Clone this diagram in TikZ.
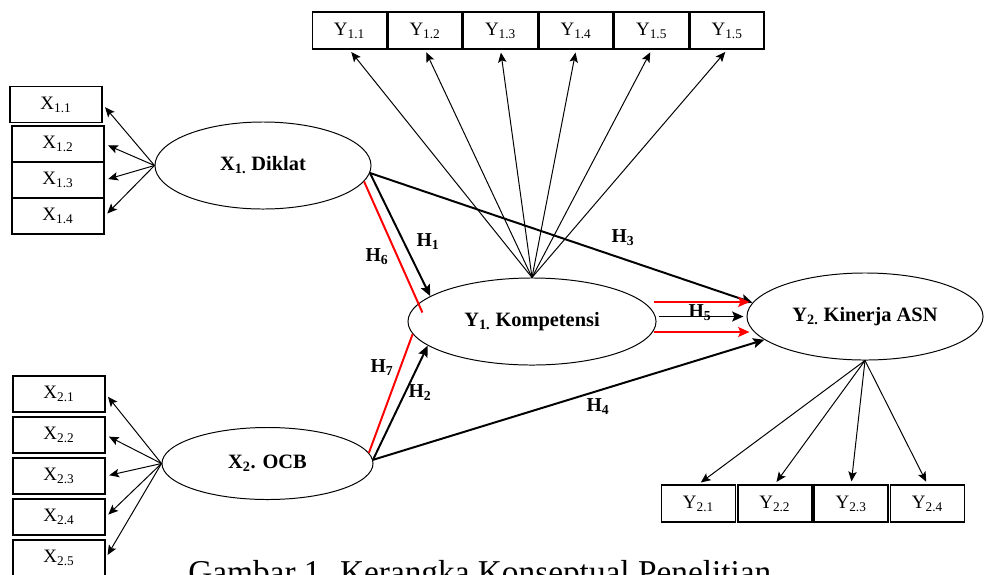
\documentclass[tikz,border=0pt]{standalone}
\usepackage{fontspec}
\setmainfont{Liberation Serif}
\usetikzlibrary{shapes.geometric, arrows.meta, calc}

\begin{document}
\begin{tikzpicture}[x=0.025cm, y=-0.025cm, node distance=1.8875cm]
%
% Skiss:
% X1 Diklat --H1--> Y1 Kompetensi --H5--> Y2 Kinerja ASN
% X2 OCB    --H2--> Y1 Kompetensi
% X1 --H3--> Y2, X2 --H4--> Y2, H6/H7 via Y1 (red)
%
% Styles
\tikzstyle{indicator} = [rectangle, draw=black, line width=1.1pt, minimum width=1.85cm, minimum height=0.925cm, inner sep=0pt, font=\fontsize{13.5}{15}\selectfont]
\tikzstyle{xindicator} = [indicator, minimum width=2.3cm, minimum height=0.9cm]
\tikzstyle{latent} = [ellipse, draw=black, line width=0.7pt, minimum height=2.175cm, inner sep=0pt, font=\bfseries\fontsize{14.5}{16}\selectfont]
\tikzstyle{hlabel} = [inner sep=0pt, font=\bfseries\fontsize{14}{16}\selectfont]
\tikzstyle{arrow} = [line width=0.7pt,->,>={Stealth[length=7pt, width=6pt, inset=1.5pt]}]
\tikzstyle{hyp} = [line width=1.4pt,->,>={Stealth[length=8pt, width=7pt, inset=1.5pt]}]
\tikzstyle{redline} = [red, line width=1.4pt]
\tikzstyle{redarrow} = [red, line width=1.4pt,->,>={Stealth[length=8pt, width=7pt, inset=1.5pt]}]
\clip (0,0) rectangle (985,574);
% Latent variables
\node (diklat) [latent, minimum width=5.4cm] at (263,165.5) {X\textsubscript{1.} Diklat};
\node (kompetensi) [latent, minimum width=6.2cm] at (532,321.5) {Y\textsubscript{1.} Kompetensi};
\node (kinerja) [latent, minimum width=5.9cm] at (865,316.5) {Y\textsubscript{2.} Kinerja ASN};
\node (ocb) [latent, minimum width=5.275cm, minimum height=1.8cm] at (267.5,463.5) {X\textsubscript{2}. OCB};
% Indicators Y1
\node (y11) [indicator] at (349.5,30.5) {Y\textsubscript{1.1}};
\node (y12) [indicator, right of=y11] {Y\textsubscript{1.2}};
\node (y13) [indicator, right of=y12] {Y\textsubscript{1.3}};
\node (y14) [indicator, right of=y13] {Y\textsubscript{1.4}};
\node (y15) [indicator, right of=y14] {Y\textsubscript{1.5}};
\node (y16) [indicator, right of=y15] {Y\textsubscript{1.5}};
% Indicators X1
\node (x11) [xindicator] at (56,104.5) {X\textsubscript{1.1}};
\node (x12) [xindicator] at (58,144) {X\textsubscript{1.2}};
\node (x13) [xindicator, below of=x12, node distance=0.9cm] {X\textsubscript{1.3}};
\node (x14) [xindicator, below of=x13, node distance=0.9cm] {X\textsubscript{1.4}};
% Indicators X2
\node (x21) [xindicator] at (59,394) {X\textsubscript{2.1}};
\node (x22) [xindicator, below of=x21, node distance=1.025cm] {X\textsubscript{2.2}};
\node (x23) [xindicator, below of=x22, node distance=1.025cm] {X\textsubscript{2.3}};
\node (x24) [xindicator, below of=x23, node distance=1.025cm] {X\textsubscript{2.4}};
\node (x25) [xindicator, below of=x24, node distance=1.025cm] {X\textsubscript{2.5}};
% Indicators Y2
\node (y21) [indicator] at (698.5,503.5) {Y\textsubscript{2.1}};
\node (y22) [indicator, right of=y21, node distance=1.9075cm] {Y\textsubscript{2.2}};
\node (y23) [indicator, right of=y22, node distance=1.9075cm] {Y\textsubscript{2.3}};
\node (y24) [indicator, right of=y23, node distance=1.9075cm] {Y\textsubscript{2.4}};
% Hypothesis labels
\node (h1) [hlabel] at (428,242) {H\textsubscript{1}};
\node (h6) [hlabel] at (377,257) {H\textsubscript{6}};
\node (h3) [hlabel] at (623,238) {H\textsubscript{3}};
\node (h5) [hlabel] at (700,313) {H\textsubscript{5}};
\node (h7) [hlabel] at (382,368) {H\textsubscript{7}};
\node (h2) [hlabel] at (420,393) {H\textsubscript{2}};
\node (h4) [hlabel] at (598,407) {H\textsubscript{4}};
% Caption
\node (caption) [anchor=base west, inner sep=0pt, font=\fontsize{23.7}{28}\selectfont] at (188,583) {Gambar 1. Kerangka Konseptual Penelitian};
% Arrows
\foreach \n in {y11,y12,y13,y14,y15,y16}
  \draw [arrow, shorten >=2pt] (kompetensi.north) -- (\n.south);
\foreach \n in {x11,x12,x13,x14}
  \draw [arrow, shorten >=2.5pt] (diklat.west) -- (\n.east);
\foreach \n in {x21,x22,x23,x24,x25}
  \draw [arrow, shorten >=2.5pt] (ocb.west) -- (\n.east);
\foreach \n in {y21,y22,y23,y24}
  \draw [arrow, shorten >=2pt] (kinerja.south) -- (\n.north);
\draw [hyp] (diklat.-4) -- (kompetensi.166);
\draw [hyp] (diklat.-4) -- (kinerja.173);
\draw [hyp] (ocb.2) -- (kompetensi.193);
\draw [hyp] (ocb.2) -- (kinerja.193);
\draw [redline, shorten >=-7pt] (diklat.-9) -- (kompetensi.171);
\draw [redline] (ocb.6) -- (kompetensi.186.5);
\draw [redarrow] ($(kompetensi.east)+(-3,-19.5)$) -- ($(kinerja.west)+(3,-14.5)$);
\draw [hyp] ($(kompetensi.east)+(2,-5)$) -- ($(kinerja.west)+(-3,0)$);
\draw [redarrow] ($(kompetensi.east)+(-3,10.5)$) -- ($(kinerja.west)+(3,15.5)$);
\end{tikzpicture}
\end{document}
